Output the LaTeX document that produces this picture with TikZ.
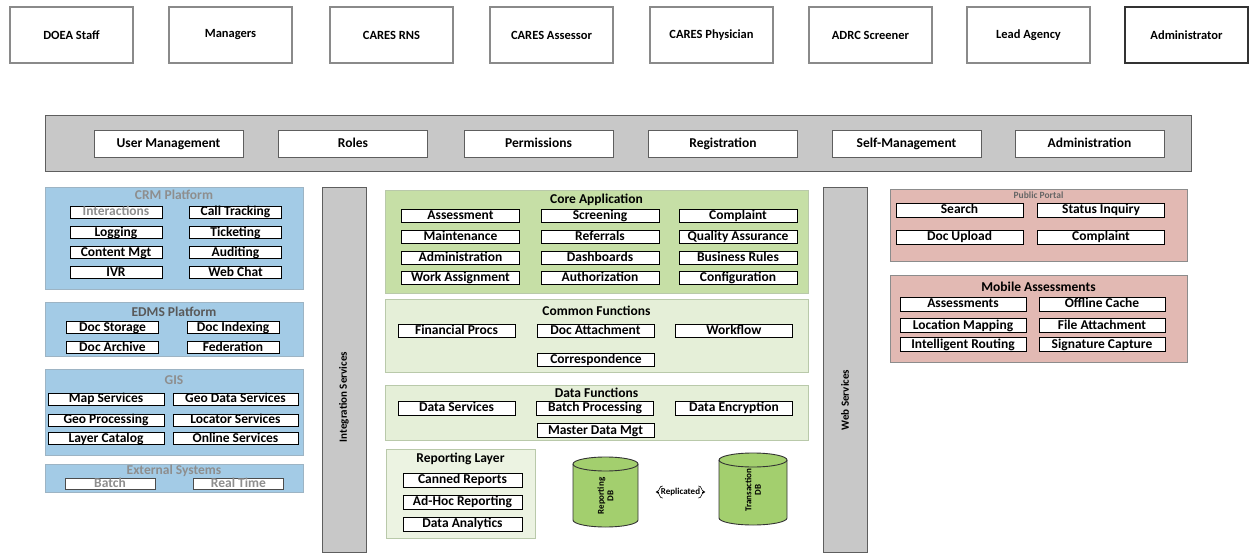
\documentclass[tikz,border=0pt]{standalone}
\usepackage{fontspec}
\setmainfont{Carlito}
\usetikzlibrary{calc,arrows.meta}

\definecolor{actorline}{HTML}{8A8A8A}
\definecolor{barfill}{HTML}{C8C8C8}
\definecolor{barline}{HTML}{5E5E5E}
\definecolor{bluefill}{HTML}{A3CBE6}
\definecolor{blueline}{HTML}{9DB4C4}
\definecolor{corefill}{HTML}{C6DFA6}
\definecolor{lightgreen}{HTML}{E5EFD8}
\definecolor{repfill}{HTML}{ECF3E2}
\definecolor{greenline}{HTML}{B9C9AA}
\definecolor{pinkfill}{HTML}{E2B9B3}
\definecolor{pinkline}{HTML}{8C8C8C}
\definecolor{dbfill}{HTML}{A3CF6E}
\definecolor{fadetext}{HTML}{8E8E8E}

\newcommand\itemfont{\fontsize{13.5}{15}\selectfont\bfseries}
\newcommand\titlefont{\fontsize{13.5}{15}\selectfont\bfseries}

\tikzset{
  actor/.style={draw=actorline, line width=1.1pt, fill=white, minimum width=123,
    minimum height=56, inner sep=0pt, font=\fontsize{12.5}{14}\selectfont\bfseries},
  barbox/.style={draw=barline, fill=barfill, line width=1pt, inner sep=0pt},
  baritem/.style={draw=barline, fill=white, line width=0.9pt, inner sep=0pt,
    minimum width=149, minimum height=27, text height=9, text depth=1.5, font=\titlefont},
  panel/.style={line width=0.8pt, inner sep=0pt},
  bluepanel/.style={panel, draw=blueline, fill=bluefill, minimum width=258},
  corepanel/.style={panel, draw=greenline, fill=corefill, minimum width=423},
  funcpanel/.style={panel, draw=greenline, fill=lightgreen, minimum width=423},
  pinkpanel/.style={panel, draw=pinkline, fill=pinkfill, minimum width=297},
  ptitle/.style={inner sep=0pt, font=\titlefont},
  item/.style={draw=black, fill=white, line width=0.9pt, inner sep=0pt,
    minimum height=13, text height=9, text depth=1.5, font=\itemfont},
  faded/.style={text=fadetext},
  vlabel/.style={rotate=90, inner sep=0pt, font=\fontsize{11}{13}\selectfont\bfseries},
  cyl/.style={draw=black!80, fill=dbfill, line width=0.9pt},
  dblabel/.style={rotate=90, inner sep=0pt, align=center,
    font=\fontsize{9}{9.5}\selectfont\bfseries},
  brace/.style={draw=black, line width=0.6pt}
}

% database drum: left, right, top, bottom, ellipse half-height
\newcommand\drum[5]{%
  \pgfmathsetmacro\drx{(#2-#1)/2}%
  \filldraw[cyl] (#1,{#3+#5}) -- (#1,{#4-#5})
    arc[start angle=180, end angle=0, x radius=\drx, y radius=#5]
    -- (#2,{#3+#5})
    arc[start angle=0, end angle=-180, x radius=\drx, y radius=#5] -- cycle;
  \draw[cyl, fill=none] (#1,{#3+#5})
    arc[start angle=180, end angle=0, x radius=\drx, y radius=#5];
}

\begin{document}
\begin{tikzpicture}[x=1pt, y=-1pt]
\useasboundingbox (0,0) rectangle (1251,554);

% ---- actors ----
\node[actor] (doea)  at (71.5,35)   {DOEA Staff};
\node[actor] (mgr)   at (230.5,35)  {Managers};
\node[actor] (rns)   at (391.5,35)  {CARES RNS};
\node[actor] (asr)   at (551.5,35)  {CARES Assessor};
\node[actor] (phys)  at (711.5,35)  {CARES Physician};
\node[actor] (adrc)  at (870.5,35)  {ADRC Screener};
\node[actor] (lead)  at (1028.5,35) {Lead Agency};
\node[actor, draw=black!80] (admin) at (1186.5,35) {Administrator};

% ---- user management bar ----
\node[barbox, minimum width=1146, minimum height=56] (umbar) at (618,143) {};
\node[baritem] (usrmgmt) at (168.5,143.5)  {User Management};
\node[baritem] (roles)   at (353,143.5)    {Roles};
\node[baritem] (perms)   at (538.5,143.5)  {Permissions};
\node[baritem] (reg)     at (723,143.5)    {Registration};
\node[baritem] (selfm)   at (906.5,143.5)  {Self-Management};
\node[baritem] (adminis) at (1089.5,143.5) {Administration};

% ---- CRM platform ----
\node[bluepanel, minimum height=102] (crm) at (174,238) {};
\node[ptitle, faded] (crmt) at (174,195) {CRM Platform};
\begin{scope}[every node/.style={item, minimum width=92, minimum height=12}]
  \node[faded] (inter) at (116,212)   {Interactions};
  \node (calltr)  at (235.5,212)   {Call Tracking};
  \node (logg)    at (116,232.5)   {Logging};
  \node (ticket)  at (235.5,232.5) {Ticketing};
  \node (content) at (116,252.5)   {Content Mgt};
  \node (audit)   at (235.5,252.5) {Auditing};
  \node (ivr)     at (116,272.5)   {IVR};
  \node (webchat) at (235.5,272.5) {Web Chat};
\end{scope}

% ---- EDMS platform ----
\node[bluepanel, minimum height=54] (edms) at (174,329) {};
\node[ptitle, text=black!65] (edmst) at (174,312) {EDMS Platform};
\begin{scope}[every node/.style={item, minimum width=92, minimum height=12}]
  \node (docstor) at (112.5,327.5) {Doc Storage};
  \node (docidx)  at (233,327.5)   {Doc Indexing};
  \node (docarch) at (112.5,347.5) {Doc Archive};
  \node (feder)   at (233,347.5)   {Federation};
\end{scope}

% ---- GIS ----
\node[bluepanel, minimum height=86] (gis) at (174,412) {};
\node[ptitle, faded] (gist) at (174,380) {GIS};
\begin{scope}[every node/.style={item, minimum height=12}]
  \node[minimum width=116] (mapsvc) at (106,399)   {Map Services};
  \node[minimum width=125] (geodat) at (235.5,399) {Geo Data Services};
  \node[minimum width=116] (geopro) at (106,420)   {Geo Processing};
  \node[minimum width=125] (locsvc) at (235.5,420) {Locator Services};
  \node[minimum width=116] (layer)  at (106,438.5) {Layer Catalog};
  \node[minimum width=125] (online) at (235.5,438.5) {Online Services};
\end{scope}

% ---- external systems ----
\node[bluepanel, minimum height=28] (ext) at (174,478) {};
\node[ptitle, faded] (extt) at (174,471) {External Systems};
\begin{scope}[every node/.style={item, faded, draw=black!70, minimum width=90, minimum height=11}]
  \node (batch)    at (110,484)   {Batch};
  \node (realtime) at (238.5,484) {Real Time};
\end{scope}

% ---- service buses ----
\node[barbox, minimum width=44, minimum height=365] (intsvc) at (344,369.5) {};
\node[vlabel] (intlbl) at (344,397) {Integration Services};
\node[barbox, minimum width=44, minimum height=365] (websvc) at (845,369.5) {};
\node[vlabel] (weblbl) at (845,400) {Web Services};

% ---- core application ----
\node[corepanel, minimum height=103] (core) at (596.5,241.5) {};
\node[ptitle] (coret) at (596.5,200) {Core Application};
\begin{scope}[every node/.style={item, minimum width=118}]
  \node (assess)  at (460.5,215.5) {Assessment};
  \node (screen)  at (600,215.5)   {Screening};
  \node (compl)   at (738,215.5)   {Complaint};
  \node (maint)   at (460.5,236.5) {Maintenance};
  \node (refer)   at (600,236.5)   {Referrals};
  \node (qa)      at (738,236.5)   {Quality Assurance};
  \node (admcore) at (460.5,258)   {Administration};
  \node (dash)    at (600,258)     {Dashboards};
  \node (brules)  at (738,258)     {Business Rules};
  \node (workas)  at (460.5,278)   {Work Assignment};
  \node (authz)   at (600,278)     {Authorization};
  \node (config)  at (738,278)     {Configuration};
\end{scope}

% ---- common functions ----
\node[funcpanel, minimum height=73] (common) at (596.5,335.5) {};
\node[ptitle] (commont) at (596.5,311) {Common Functions};
\begin{scope}[every node/.style={item, minimum width=117}]
  \node (finproc) at (456.5,330.5) {Financial Procs};
  \node (docatt)  at (595.5,330.5) {Doc Attachment};
  \node (wflow)   at (734,330.5)   {Workflow};
  \node (corresp) at (596,359.5)   {Correspondence};
\end{scope}

% ---- data functions ----
\node[funcpanel, minimum height=55] (dataf) at (596.5,412.5) {};
\node[ptitle] (datat) at (596.5,393) {Data Functions};
\begin{scope}[every node/.style={item, minimum width=117, minimum height=14}]
  \node (datasvc) at (456.5,408)   {Data Services};
  \node (batchp)  at (595,408)     {Batch Processing};
  \node (dataenc) at (734,408)     {Data Encryption};
  \node (mdm)     at (595.5,430.5) {Master Data Mgt};
\end{scope}

% ---- reporting layer ----
\node[panel, draw=greenline, fill=repfill, minimum width=149, minimum height=89] (replayer) at (460.5,493.5) {};
\node[ptitle] (rept) at (460.5,459) {Reporting Layer};
\begin{scope}[every node/.style={item, minimum width=119, minimum height=14}]
  \node (canned) at (462.5,480) {Canned Reports};
  \node (adhoc)  at (462.5,502) {Ad-Hoc Reporting};
  \node (analyt) at (462.5,524) {Data Analytics};
\end{scope}

% ---- databases ----
\drum{573}{638}{457}{527}{7}
\node[dblabel] (repdb) at (605.5,496) {Reporting\\DB};
\drum{719}{787}{453}{525}{7}
\node[dblabel] (trandb) at (753,490) {Transaction\\DB};

% replication marker between the two stores
\node[inner sep=1pt, font=\fontsize{9}{10}\selectfont\bfseries] (repl) at (680.5,492) {Replicated};
\draw[brace] ($(repl.north west)+(3,-1)$) .. controls ($(repl.west)+(-1,-6)$) and ($(repl.west)+(1,-2)$) .. ($(repl.west)+(-3,0)$)
  .. controls ($(repl.west)+(1,2)$) and ($(repl.west)+(-1,6)$) .. ($(repl.south west)+(3,1)$);
\draw[brace] ($(repl.north east)+(-3,-1)$) .. controls ($(repl.east)+(1,-6)$) and ($(repl.east)+(-1,-2)$) .. ($(repl.east)+(3,0)$)
  .. controls ($(repl.east)+(-1,2)$) and ($(repl.east)+(1,6)$) .. ($(repl.south east)+(-3,1)$);
\draw[-{Stealth[length=3pt,width=3pt]}, line width=0.5pt] ($(repl.west)+(-1,0)$) -- ($(repl.west)+(-4,0)$);
\draw[-{Stealth[length=3pt,width=3pt]}, line width=0.5pt] ($(repl.east)+(1,0)$) -- ($(repl.east)+(4,0)$);

% ---- public portal ----
\node[pinkpanel, minimum height=72] (portal) at (1038.5,225) {};
\node[ptitle, text=black!60, font=\fontsize{9.5}{10}\selectfont\bfseries] (portalt) at (1038.5,195) {Public Portal};
\begin{scope}[every node/.style={item, minimum width=127, minimum height=14}]
  \node (search) at (959.5,210) {Search};
  \node (status) at (1101,210)  {Status Inquiry};
  \node (upload) at (959.5,237) {Doc Upload};
  \node (pcompl) at (1101,237)  {Complaint};
\end{scope}

% ---- mobile assessments ----
\node[pinkpanel, minimum height=87] (mobile) at (1038.5,318.5) {};
\node[ptitle] (mobilet) at (1038.5,287) {Mobile Assessments};
\begin{scope}[every node/.style={item, minimum width=126, minimum height=14}]
  \node (massess) at (963,304)    {Assessments};
  \node (offline) at (1102,304)   {Offline Cache};
  \node (locmap)  at (963,325.5)  {Location Mapping};
  \node (fileatt) at (1102,325.5) {File Attachment};
  \node (introut) at (963,344.5)  {Intelligent Routing};
  \node (sigcap)  at (1102,344.5) {Signature Capture};
\end{scope}
\end{tikzpicture}
\end{document}
